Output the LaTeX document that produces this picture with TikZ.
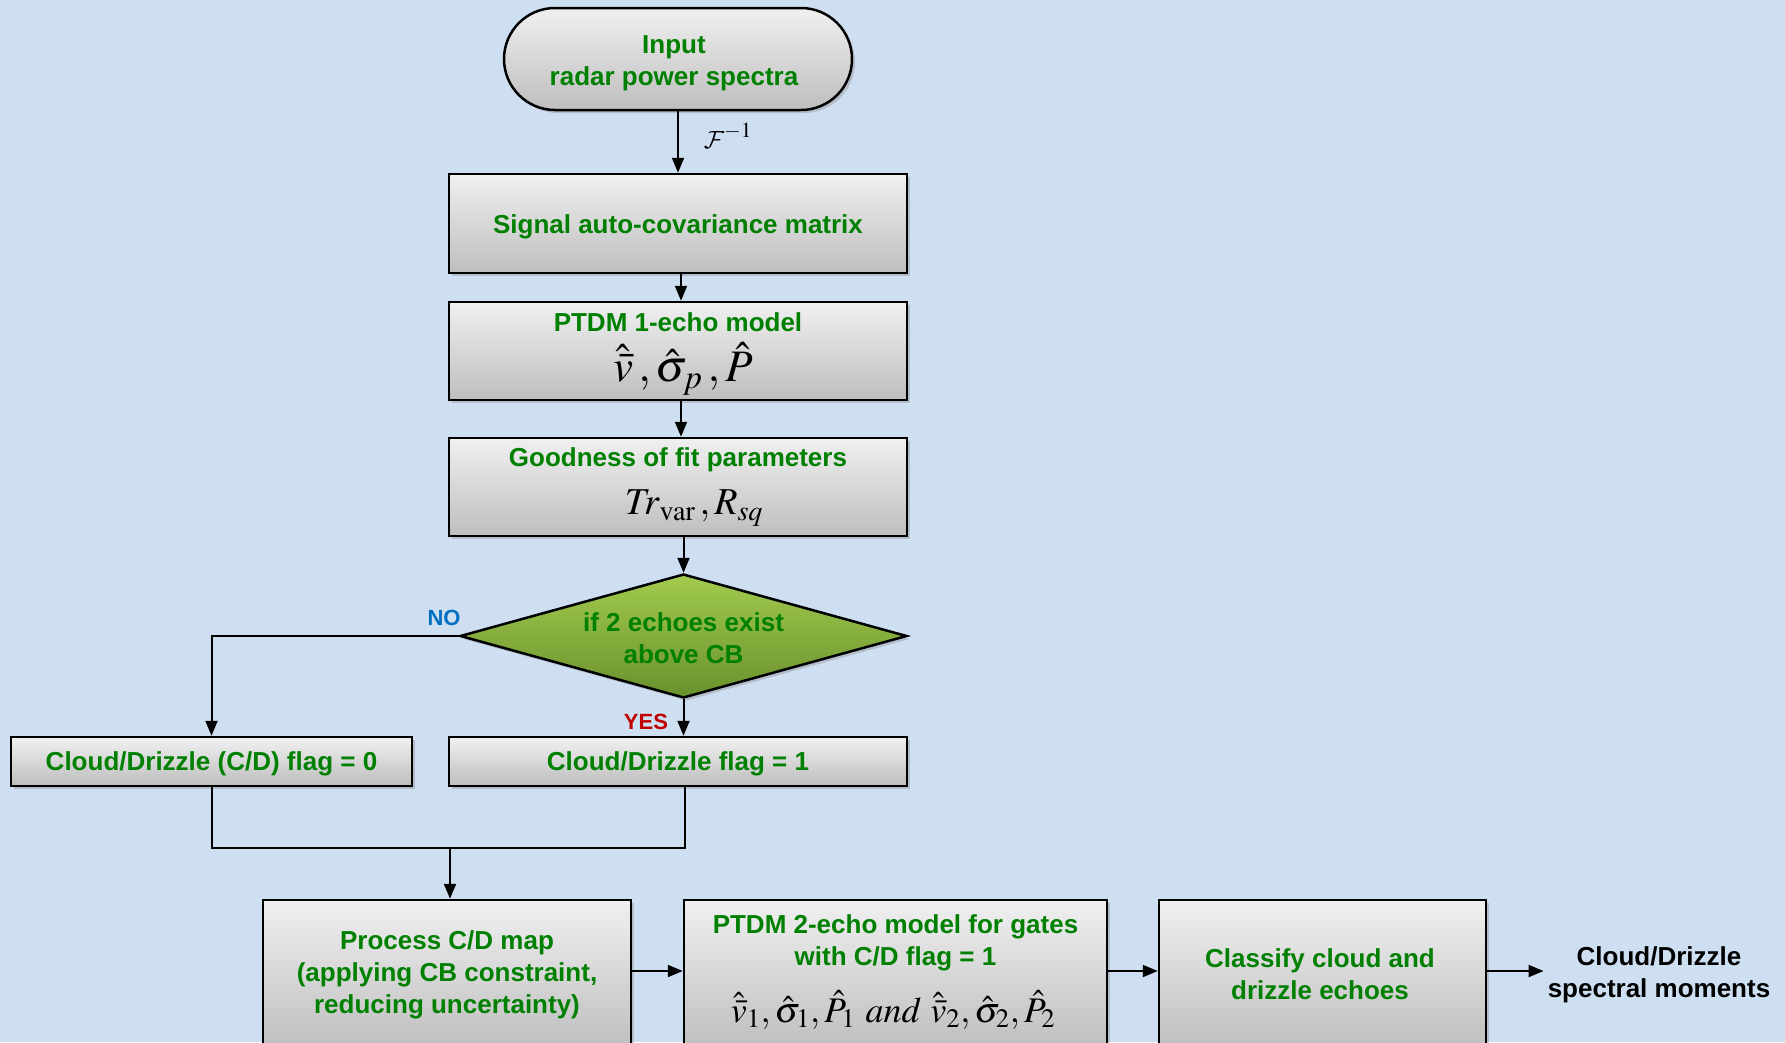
\documentclass[tikz,border=0pt]{standalone}
\usepackage{mathptmx}
\usepackage[no-math]{fontspec}
\setmainfont{Liberation Sans}
\DeclareMathAlphabet{\cmcal}{OMS}{cmsy}{m}{n}
\usetikzlibrary{arrows.meta,shapes.geometric,shadows}
\definecolor{bgblue}{RGB}{207,223,242}
\definecolor{tgreen}{RGB}{0,128,0}
\definecolor{gtop}{RGB}{240,240,240}
\definecolor{gbot}{RGB}{190,190,190}
\definecolor{dtop}{RGB}{162,203,78}
\definecolor{dbot}{RGB}{105,145,45}
\definecolor{noblue}{RGB}{0,112,192}
\definecolor{yesred}{RGB}{192,0,0}
\tikzset{
  lbl/.style={font=\fontsize{26}{32}\selectfont\bfseries, text=tgreen, align=center},
  box/.style={draw=black, line width=2.5pt, top color=gtop, bottom color=gbot,
    drop shadow={shadow xshift=3pt, shadow yshift=-3pt, opacity=0.35},
    inner sep=0pt},
  conn/.style={draw=black, line width=2pt},
  arr/.style={conn, -{Triangle[length=15pt,width=12pt]}},
  flagtxt/.style={font=\fontsize{22}{26}\selectfont\bfseries}
}
\begin{document}
\begin{tikzpicture}[x=1pt,y=-1pt]
\useasboundingbox (0,0) rectangle (1785,1042);
\fill[bgblue] (0,0) rectangle (1785,1042);

% terminal
\node[box, rounded corners=51pt, minimum width=348pt, minimum height=102pt] (in) at (678,59) {};
\node[lbl] (int) at (674,63) {Input\\radar power spectra};

% process boxes
\node[box, minimum width=458pt, minimum height=99pt] (sig) at (678,223.5) {};
\node[lbl] (sigt) at (678,227) {Signal auto-covariance matrix};
\node[box, minimum width=458pt, minimum height=98pt] (p1) at (678,351) {};
\node[lbl] (p1t) at (678,322) {PTDM 1-echo model};
\node[text=black, font=\fontsize{45}{50}\selectfont] (p1m) at (683,369) {$\hat{\bar{v}}\,,\hat{\sigma}_{p}\,,\hat{P}$};

\node[box, minimum width=458pt, minimum height=98pt] (gof) at (678,487) {};
\node[lbl] (goft) at (678,460) {Goodness of fit parameters};
\node[text=black, font=\fontsize{38}{44}\selectfont] (gofm) at (694,508) {$\mathit{Tr}_{\mathrm{var}}\,,R_{sq}$};

% decision
\node[diamond, aspect=3.6, draw=black, line width=2.5pt, top color=dtop, bottom color=dbot,
  drop shadow={shadow xshift=3pt, shadow yshift=-3pt, opacity=0.35},
  minimum width=447pt, minimum height=124pt, inner sep=0pt] (dia) at (683.5,636) {};
\node[lbl] (diat) at (683.5,638) {if 2 echoes exist\\above CB};

% flags
\node[box, minimum width=401pt, minimum height=49pt] (c0) at (211.5,761.5) {};
\node[lbl] (c0t) at (211.5,764) {Cloud/Drizzle (C/D) flag = 0};
\node[box, minimum width=458pt, minimum height=49pt] (c1) at (678,761.5) {};
\node[lbl] (c1t) at (678,764) {Cloud/Drizzle flag = 1};

% bottom row
\node[box, minimum width=368pt, minimum height=150pt] (proc) at (447,975) {};
\node[lbl] (proct) at (447,975) {Process C/D map\\(applying CB constraint,\\reducing uncertainty)};
\node[box, minimum width=423pt, minimum height=150pt] (p2) at (895.5,975) {};
\node[lbl] (p2t) at (895.5,943) {PTDM 2-echo model for gates\\with C/D flag = 1};
\node[text=black, font=\fontsize{36}{42}\selectfont] (p2m) at (893,1010) {$\hat{\bar{v}}_1,\hat{\sigma}_1,\hat{P}_1\ \mathit{and}\ \hat{\bar{v}}_2,\hat{\sigma}_2,\hat{P}_2$};
\node[box, minimum width=327pt, minimum height=150pt] (cls) at (1322.5,975) {};
\node[lbl] (clst) at (1320,974) {Classify cloud and\\drizzle echoes};
\node[lbl, text=black, inner sep=4pt] (out) at (1659,975) {Cloud/Drizzle\\spectral moments};

% labels
\node[font=\fontsize{29}{34}\selectfont] (finv) at (728,136) {$\cmcal{F}^{-1}$};
\node[flagtxt, text=noblue] (no) at (444,618) {NO};
\node[flagtxt, text=yesred] (yes) at (646,722) {YES};

% connectors
\draw[arr] (in.south) -- (sig.north);
\draw[arr] ([xshift=3pt]sig.south) -- ([xshift=3pt]p1.north);
\draw[arr] ([xshift=3pt]p1.south) -- ([xshift=3pt]gof.north);
\draw[arr] (dia.north |- gof.south) -- (dia.north);
\draw[arr] (dia.west) -| (c0.north);
\draw[arr] (dia.south) -- (dia.south |- c1.north);
\coordinate (m) at (450,848);
\draw[conn] (c0.south) |- ([xshift=7pt]c1.south |- m) -- ([xshift=7pt]c1.south);
\draw[arr] (m) -- (m |- proc.north);
\draw[arr] (proc.east |- 0,971) -- (p2.west |- 0,971);
\draw[arr] (p2.east |- 0,971) -- (cls.west |- 0,971);
\draw[arr] (cls.east |- 0,971) -- (out.west |- 0,971);
\end{tikzpicture}
\end{document}
